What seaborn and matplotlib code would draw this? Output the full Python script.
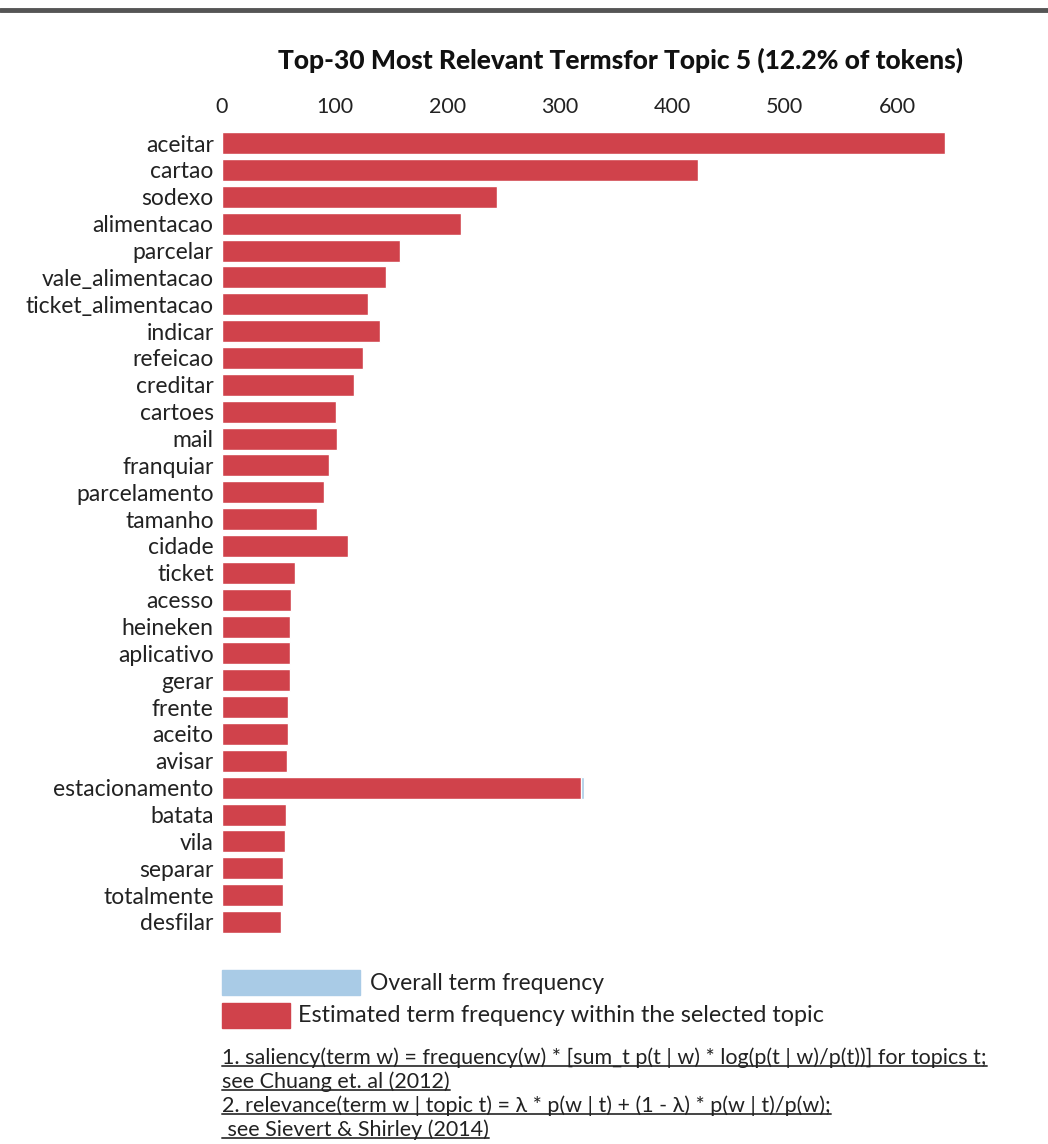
import matplotlib
matplotlib.use("Agg")
import matplotlib.pyplot as plt
import seaborn as sns
import pandas as pd
from matplotlib.patches import Rectangle
from matplotlib.lines import Line2D

terms = ["aceitar", "cartao", "sodexo", "alimentacao", "parcelar", "vale_alimentacao",
         "ticket_alimentacao", "indicar", "refeicao", "creditar", "cartoes", "mail",
         "franquiar", "parcelamento", "tamanho", "cidade", "ticket", "acesso", "heineken",
         "aplicativo", "gerar", "frente", "aceito", "avisar", "estacionamento", "batata",
         "vila", "separar", "totalmente", "desfilar"]
topic_freq = [642, 423, 244, 212, 158, 146, 130, 140, 125, 117, 101, 102, 95, 91, 84,
              112, 65, 61, 60, 60, 60, 59, 59, 58, 319, 57, 56, 54, 54, 52]
overall_freq = [642, 423, 244, 212, 158, 146, 130, 140, 125, 117, 101, 102, 95, 91, 84,
                112, 65, 61, 60, 60, 60, 59, 59, 58, 322, 57, 56, 54, 54, 52]
ticks = [0, 100, 200, 300, 400, 500, 600]

title = "Top-30 Most Relevant Termsfor Topic 5 (12.2% of tokens)"
notes = [
    "1. saliency(term w) = frequency(w) * [sum_t p(t | w) * log(p(t | w)/p(t))] for topics t;",
    "see Chuang et. al (2012)",
    "2. relevance(term w | topic t) = \u03bb * p(w | t) + (1 - \u03bb) * p(w | t)/p(w);",
    " see Sievert & Shirley (2014)",
]

blue = "#a9cbe6"
red = "#d0424b"
ink = "#222222"

sns.set_theme(style="white")
plt.rcParams["font.family"] = ["Lato", "DejaVu Sans"]

df = pd.DataFrame({"term": terms, "topic": topic_freq, "overall": overall_freq})

fig = plt.figure(figsize=(10.48, 11.44), dpi=100)
ax = fig.add_axes([0.2118, 0.180, 0.6928, 0.709])

sns.barplot(data=df, y="term", x="overall", orient="h", color=blue, width=0.82,
            saturation=1, ax=ax)
sns.barplot(data=df, y="term", x="topic", orient="h", color=red, width=0.82,
            saturation=1, ax=ax)

ax.set_xlim(0, 645)
ax.set_ylim(len(terms) - 0.4, -0.6)
ax.xaxis.tick_top()
ax.set_xticks(ticks)
ax.set_xticklabels([str(t) for t in ticks], fontsize=15.5, color=ink)
ax.tick_params(axis="y", labelsize=16.5, labelcolor=ink, length=0, pad=6)
ax.tick_params(axis="x", length=0, pad=7)
ax.set_xlabel("")
ax.set_ylabel("")
for s in ax.spines.values():
    s.set_visible(False)

fig.text(0.592, 0.9476, title, ha="center", va="center", fontsize=19,
         fontweight="black", color="#111111")

# screenshot border line at top
fig.add_artist(Line2D([0, 1], [0.991, 0.991], color="#555555", lw=3.5,
                      transform=fig.transFigure))

# legend
fig.patches.append(Rectangle((222 / 1048, 1 - 995 / 1144), 138 / 1048, 25 / 1144,
                             transform=fig.transFigure, color=blue))
fig.patches.append(Rectangle((222 / 1048, 1 - 1028 / 1144), 68 / 1048, 25 / 1144,
                             transform=fig.transFigure, color=red))
fig.text(370 / 1048, 1 - 983 / 1144, "Overall term frequency", fontsize=16.5,
         va="center", color=ink)
fig.text(298 / 1048, 1 - 1016 / 1144, "Estimated term frequency within the selected topic",
         fontsize=16.8, va="center", color=ink)

# underlined footnotes
note_y = [1058, 1082, 1106, 1130]
note_txt = []
for y, s in zip(note_y, notes):
    note_txt.append(fig.text(222 / 1048, 1 - y / 1144, s, fontsize=15.5,
                             va="center", color=ink))
fig.canvas.draw()
r = fig.canvas.get_renderer()
for t in note_txt:
    bb = t.get_window_extent(r).transformed(fig.transFigure.inverted())
    fig.add_artist(Line2D([bb.x0, bb.x1], [bb.y0 + 0.002, bb.y0 + 0.002],
                          color="#444444", lw=1.4, transform=fig.transFigure))

fig.savefig("out.png", dpi=100)
